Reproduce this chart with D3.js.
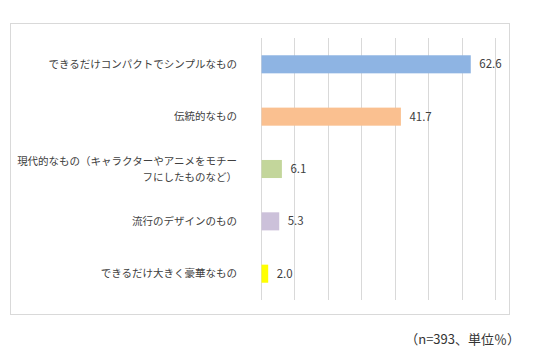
<!DOCTYPE html>
<html>
<head>
<meta charset="utf-8">
<script src="https://cdn.jsdelivr.net/npm/d3@7"></script>
<style>
  body { margin: 0; background: #fff; }
  text { font-family: "Noto Sans CJK JP", "Noto Sans", sans-serif; }
</style>
</head>
<body>
<svg width="547" height="363"></svg>
<script>
// chart data
var categories = [
  "できるだけコンパクトでシンプルなもの",
  "伝統的なもの",
  "現代的なもの（キャラクターやアニメをモチー|フにしたものなど）",
  "流行のデザインのもの",
  "できるだけ大きく豪華なもの"
];
var values = [62.6, 41.7, 6.1, 5.3, 2.0];
var colors = ["#8eb4e3", "#fac090", "#c3d69b", "#ccc1da", "#ffff00"];
var gridTicks = [0, 10, 20, 30, 40, 50, 60, 70];
var note = "（n=393、単位％）";

var svg = d3.select("svg");

// outer frame
svg.append("rect")
  .attr("x", 10.5).attr("y", 23.5)
  .attr("width", 499).attr("height", 291)
  .attr("fill", "none")
  .attr("stroke", "#d9d9d9");

var x = d3.scaleLinear().domain([0, 70]).range([261, 495]);
var y = d3.scaleBand().domain(categories).range([38, 300]).paddingInner(0.655).paddingOuter(0.33);

// gridlines
svg.append("g").selectAll("line")
  .data(gridTicks)
  .enter().append("line")
  .attr("x1", function(d) { return Math.round(x(d)) + 0.5; })
  .attr("x2", function(d) { return Math.round(x(d)) + 0.5; })
  .attr("y1", 38).attr("y2", 300)
  .attr("stroke", "#d9d9d9");

// bars
svg.append("g").selectAll("rect")
  .data(values)
  .enter().append("rect")
  .attr("x", x(0) + 0.5)
  .attr("y", function(d, i) { return y(categories[i]); })
  .attr("width", function(d) { return x(d) - x(0); })
  .attr("height", y.bandwidth())
  .attr("fill", function(d, i) { return colors[i]; });

// value labels
svg.append("g").selectAll("text")
  .data(values)
  .enter().append("text")
  .attr("x", function(d) { return x(d) + 9; })
  .attr("y", function(d, i) { return y(categories[i]) + y.bandwidth() / 2; })
  .attr("dy", "0.36em")
  .attr("font-size", 11.5)
  .attr("fill", "#404040")
  .text(function(d) { return d.toFixed(1); });

// category labels (| marks a line break)
var lab = svg.append("g").selectAll("text")
  .data(categories)
  .enter().append("text")
  .attr("text-anchor", "end")
  .attr("font-size", 10.5)
  .attr("fill", "#404040")
  .attr("y", function(d) { return y(d) + y.bandwidth() / 2; });

lab.each(function(d) {
  var parts = d.split("|");
  var t = d3.select(this);
  parts.forEach(function(p, k) {
    t.append("tspan")
      .attr("x", 237)
      .attr("dy", k == 0 ? (0.36 - (parts.length - 1) * 0.75) + "em" : "1.5em")
      .text(p);
  });
});

// footnote
svg.append("text")
  .attr("x", 520).attr("y", 344)
  .attr("text-anchor", "end")
  .attr("font-size", 13)
  .attr("fill", "#333")
  .text(note);
</script>
</body>
</html>
